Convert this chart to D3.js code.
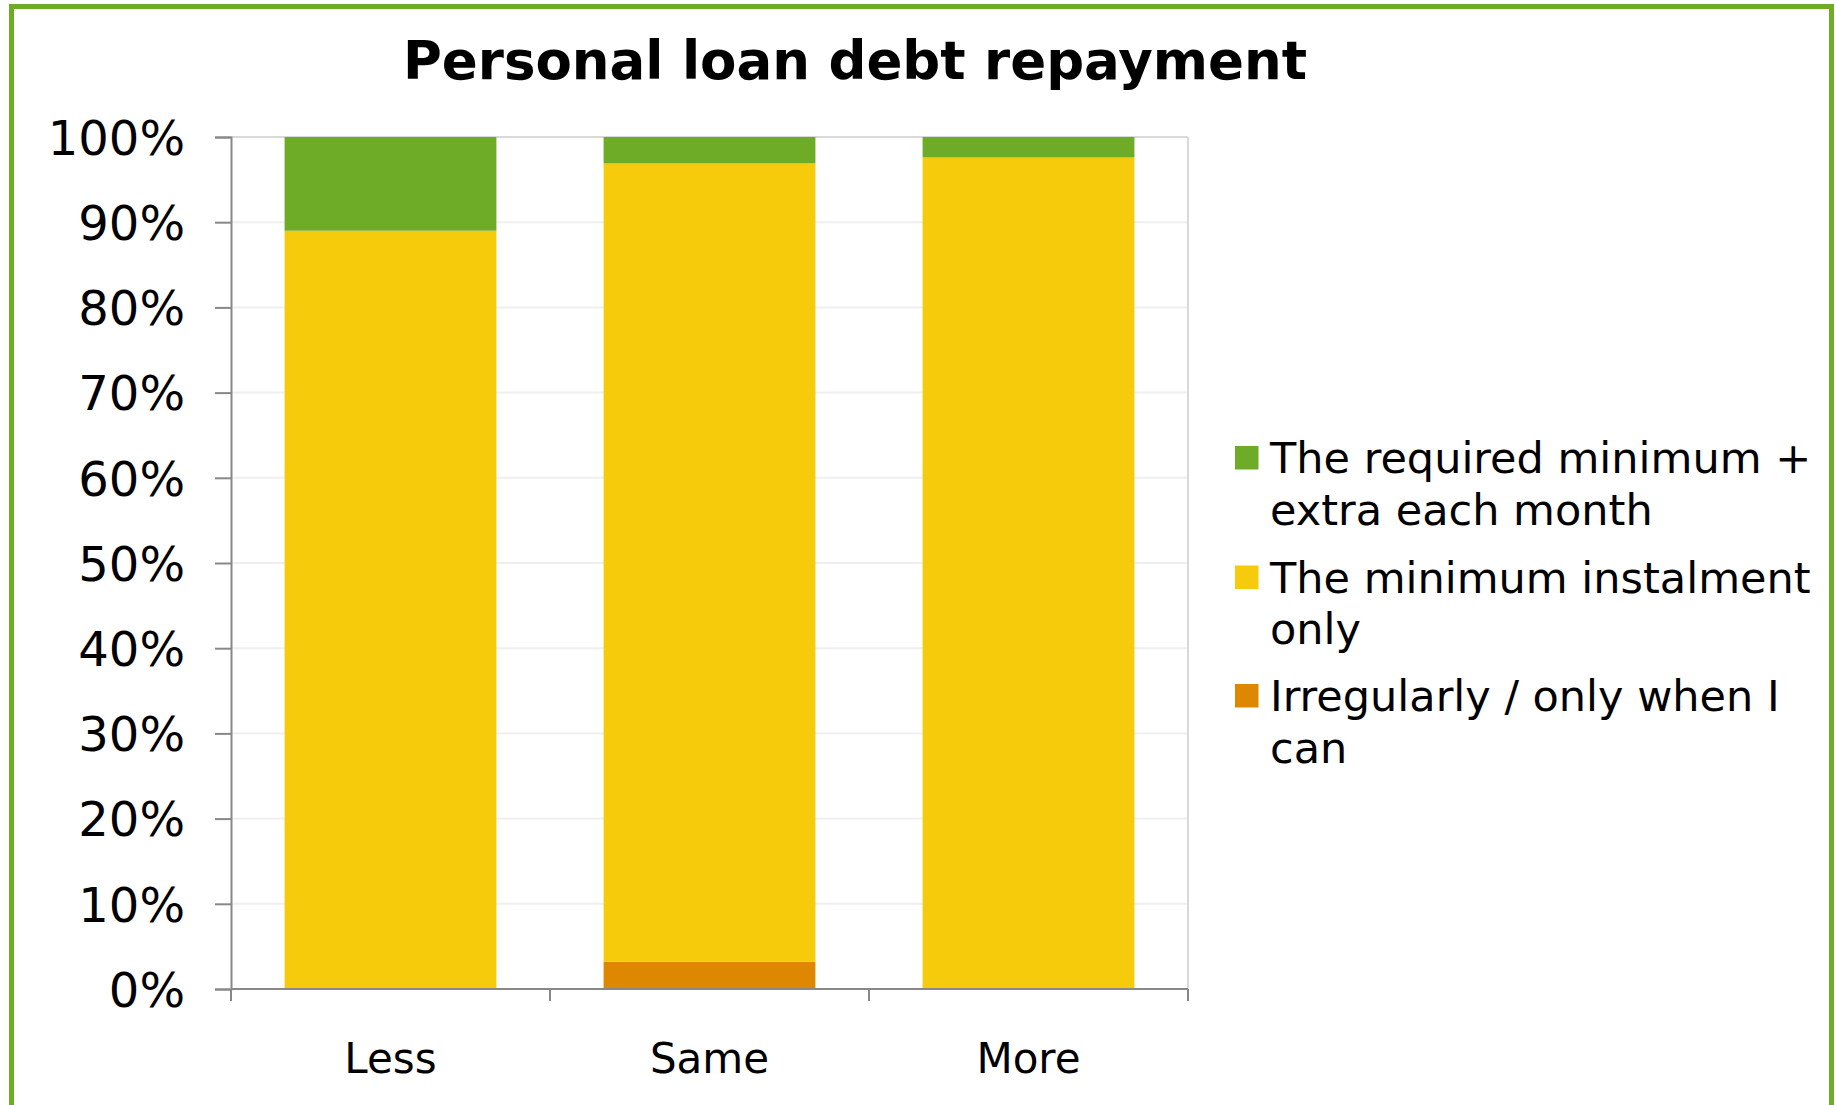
<!DOCTYPE html>
<html>
<head>
<meta charset="utf-8">
<script src="https://cdn.jsdelivr.net/npm/d3@7"></script>
<style>
  html, body { margin: 0; padding: 0; background: #fff; }
  svg { display: block; }
  text { font-family: "DejaVu Sans", Verdana, sans-serif; fill: #000; }
</style>
</head>
<body>
<svg id="chart" width="1836" height="1105"></svg>
<script>
// Chart data
const categories = ["Less", "Same", "More"];
const seriesNames = [
  "Irregularly / only when I\ncan",
  "The minimum instalment\nonly",
  "The required minimum +\nextra each month"
];
const irregularly = [0, 3.2, 0];
const minimumOnly = [89.0, 93.7, 97.6];
const minimumPlusExtra = [11.0, 3.1, 2.4];
const seriesColors = ["#DD8800", "#F5CB0C", "#6EAB26"];
const yTicks = [0, 10, 20, 30, 40, 50, 60, 70, 80, 90, 100];
const title = "Personal loan debt repayment";

const W = 1836, H = 1105;
const plot = { left: 231, right: 1188, top: 137, bottom: 989 };

const svg = d3.select("#chart");

// Outer frame
svg.append("rect")
  .attr("x", 11.5).attr("y", 6.5)
  .attr("width", W - 11.5 - 4.5).attr("height", H + 20)
  .attr("fill", "#fff").attr("stroke", "#6EAB26").attr("stroke-width", 5);

// Title
svg.append("text")
  .attr("x", 855).attr("y", 79)
  .attr("text-anchor", "middle")
  .attr("font-size", 53).attr("font-weight", "bold")
  .text(title);

const x = d3.scaleBand()
  .domain(categories)
  .range([plot.left, plot.right])
  .paddingInner(0.336).paddingOuter(0.168);

const y = d3.scaleLinear().domain([0, 100]).range([plot.bottom, plot.top]);

// Gridlines
svg.append("g").selectAll("line")
  .data(yTicks.filter(t => t > 0))
  .join("line")
  .attr("x1", plot.left).attr("x2", plot.right)
  .attr("y1", d => y(d)).attr("y2", d => y(d))
  .attr("stroke", d => d === 100 ? "#d9d9d9" : "#efefef")
  .attr("stroke-width", 2);

// Right edge of plot area
svg.append("line")
  .attr("x1", plot.right).attr("x2", plot.right)
  .attr("y1", plot.top).attr("y2", plot.bottom)
  .attr("stroke", "#d9d9d9").attr("stroke-width", 2);

// Stacked bars
const rows = categories.map((c, i) => ({
  category: c,
  s0: irregularly[i], s1: minimumOnly[i], s2: minimumPlusExtra[i]
}));
const stack = d3.stack().keys(["s0", "s1", "s2"])(rows);

svg.append("g").selectAll("g")
  .data(stack)
  .join("g")
  .attr("fill", (d, i) => seriesColors[i])
  .selectAll("rect")
  .data(d => d)
  .join("rect")
  .attr("x", d => x(d.data.category))
  .attr("width", x.bandwidth())
  .attr("y", d => y(d[1]))
  .attr("height", d => y(d[0]) - y(d[1]));

// Y axis
const yAxis = d3.axisLeft(y)
  .tickValues(yTicks)
  .tickFormat(d => d + "%")
  .tickSize(16)
  .tickPadding(30);
const yg = svg.append("g")
  .attr("transform", `translate(${plot.left},0)`)
  .call(yAxis);
yg.select(".domain").attr("stroke", "#888").attr("stroke-width", 2);
yg.selectAll(".tick line").attr("stroke", "#888").attr("stroke-width", 2);
yg.selectAll(".tick text")
  .attr("font-size", 48)
  .attr("font-family", "DejaVu Sans, Verdana, sans-serif")
  .attr("dy", "0.36em");

// X axis with tick marks at category boundaries
svg.append("line")
  .attr("x1", plot.left).attr("x2", plot.right)
  .attr("y1", plot.bottom).attr("y2", plot.bottom)
  .attr("stroke", "#888").attr("stroke-width", 2);
const bounds = d3.range(categories.length + 1).map(i => plot.left + i * x.step());
svg.append("g").selectAll("line")
  .data(bounds)
  .join("line")
  .attr("x1", d => d).attr("x2", d => d)
  .attr("y1", plot.bottom).attr("y2", plot.bottom + 12)
  .attr("stroke", "#888").attr("stroke-width", 2);
svg.append("g").selectAll("text")
  .data(categories)
  .join("text")
  .attr("x", d => x(d) + x.bandwidth() / 2)
  .attr("y", 1073)
  .attr("text-anchor", "middle")
  .attr("font-size", 42)
  .text(d => d);

// Legend (top entry is the top of the stack)
const legendOrder = [2, 1, 0];
const legendTop = [446, 565.5, 684];
const lg = svg.append("g");
legendOrder.forEach((si, k) => {
  const g = lg.append("g");
  g.append("rect")
    .attr("x", 1235).attr("y", legendTop[k])
    .attr("width", 23.5).attr("height", 23.5)
    .attr("fill", seriesColors[si]);
  const t = g.append("text")
    .attr("x", 1270).attr("y", legendTop[k] + 27)
    .attr("font-size", 43);
  seriesNames[si].split("\n").forEach((line, j) => {
    t.append("tspan")
      .attr("x", 1270)
      .attr("dy", j === 0 ? 0 : 51.5)
      .text(line);
  });
});
</script>
</body>
</html>
